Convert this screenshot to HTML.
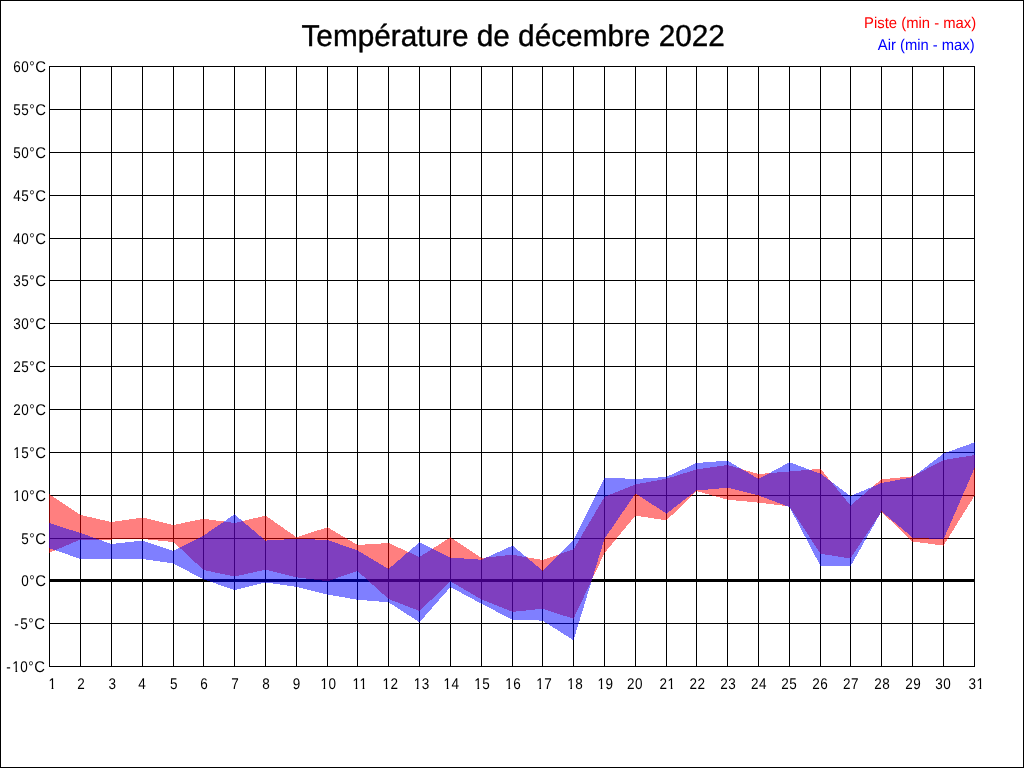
<!DOCTYPE html>
<html lang="fr"><head><meta charset="utf-8"><title>Température de décembre 2022</title>
<style>html,body{margin:0;padding:0;background:#fff}body{width:1024px;height:768px;overflow:hidden}svg{display:block;font-family:"Liberation Sans",Arial,sans-serif;text-rendering:geometricPrecision}.n{letter-spacing:0.54px}</style></head><body>
<svg width="1024" height="768" viewBox="0 0 1024 768">
<rect x="0" y="0" width="1024" height="768" fill="#fff"/>
<g shape-rendering="crispEdges" fill="#000">
<rect x="49" y="66" width="1" height="601"/>
<rect x="80" y="66" width="1" height="601"/>
<rect x="111" y="66" width="1" height="601"/>
<rect x="142" y="66" width="1" height="601"/>
<rect x="173" y="66" width="1" height="601"/>
<rect x="203" y="66" width="1" height="601"/>
<rect x="234" y="66" width="1" height="601"/>
<rect x="265" y="66" width="1" height="601"/>
<rect x="296" y="66" width="1" height="601"/>
<rect x="327" y="66" width="1" height="601"/>
<rect x="357" y="66" width="1" height="601"/>
<rect x="388" y="66" width="1" height="601"/>
<rect x="419" y="66" width="1" height="601"/>
<rect x="450" y="66" width="1" height="601"/>
<rect x="481" y="66" width="1" height="601"/>
<rect x="512" y="66" width="1" height="601"/>
<rect x="542" y="66" width="1" height="601"/>
<rect x="573" y="66" width="1" height="601"/>
<rect x="604" y="66" width="1" height="601"/>
<rect x="635" y="66" width="1" height="601"/>
<rect x="666" y="66" width="1" height="601"/>
<rect x="696" y="66" width="1" height="601"/>
<rect x="727" y="66" width="1" height="601"/>
<rect x="758" y="66" width="1" height="601"/>
<rect x="789" y="66" width="1" height="601"/>
<rect x="820" y="66" width="1" height="601"/>
<rect x="850" y="66" width="1" height="601"/>
<rect x="881" y="66" width="1" height="601"/>
<rect x="912" y="66" width="1" height="601"/>
<rect x="943" y="66" width="1" height="601"/>
<rect x="974" y="66" width="1" height="601"/>
<rect x="49" y="66" width="926" height="1"/>
<rect x="49" y="109" width="926" height="1"/>
<rect x="49" y="152" width="926" height="1"/>
<rect x="49" y="195" width="926" height="1"/>
<rect x="49" y="238" width="926" height="1"/>
<rect x="49" y="280" width="926" height="1"/>
<rect x="49" y="323" width="926" height="1"/>
<rect x="49" y="366" width="926" height="1"/>
<rect x="49" y="409" width="926" height="1"/>
<rect x="49" y="452" width="926" height="1"/>
<rect x="49" y="495" width="926" height="1"/>
<rect x="49" y="538" width="926" height="1"/>
<rect x="49" y="579" width="926" height="3"/>
<rect x="49" y="623" width="926" height="1"/>
<rect x="49" y="666" width="926" height="1"/>
</g>
<g shape-rendering="crispEdges">
<polygon fill="#ff0000" fill-opacity="0.5" points="49,494 80.5,515 111.5,522 142.5,517.5 173.5,525 203.5,518.75 234.5,523 265.5,515.6 296.5,537.25 327.5,527.25 357.5,545 388.5,543 419.5,557 450.5,537.25 481.5,558 512.5,554.75 542.5,560 573.5,549.4 604.5,496.9 635.5,484.4 666.5,478.75 696.5,469.4 727.5,465 758.5,474 789.5,471.5 820.5,468.75 850.5,505.6 881.5,479.25 912.5,476.4 943.5,460 975,455 975,495 943.5,545.6 912.5,541.5 881.5,511.9 850.5,558.5 820.5,553.75 789.5,506.5 758.5,502.6 727.5,499.75 696.5,491 666.5,520.4 635.5,515.6 604.5,553 573.5,618.75 542.5,608.75 512.5,611.9 481.5,599.5 450.5,581.4 419.5,611 388.5,599 357.5,571 327.5,581.25 296.5,577.25 265.5,569.75 234.5,576.5 203.5,570 173.5,542 142.5,539 111.5,539.5 80.5,539.5 49,553"/>
<polygon fill="#0000ff" fill-opacity="0.5" points="49,523 80.5,533 111.5,544 142.5,540.5 173.5,551 203.5,535.6 234.5,514.4 265.5,540.6 296.5,538.75 327.5,540 357.5,550.4 388.5,569 419.5,542.25 450.5,557.6 481.5,559.75 512.5,545.6 542.5,570.6 573.5,540 604.5,477.5 635.5,479 666.5,476.9 696.5,463 727.5,460.6 758.5,479 789.5,462.25 820.5,473.75 850.5,496 881.5,483 912.5,477.25 943.5,453.5 975,442.25 975,467 943.5,539.4 912.5,537.5 881.5,511.4 850.5,566.25 820.5,566 789.5,507 758.5,495.4 727.5,487.75 696.5,490.5 666.5,513.6 635.5,493.5 604.5,538.75 573.5,640.3 542.5,620.6 512.5,619.75 481.5,603.8 450.5,587 419.5,622.25 388.5,602.25 357.5,599.75 327.5,594.5 296.5,586.9 265.5,582.5 234.5,590 203.5,579.4 173.5,563.5 142.5,559 111.5,559 80.5,559 49,548"/>
</g>
<g shape-rendering="crispEdges" fill="#000"><rect x="0" y="0" width="1024" height="1"/><rect x="0" y="767" width="1024" height="1"/><rect x="0" y="0" width="1" height="768"/><rect x="1023" y="0" width="1" height="768"/></g>
<text transform="translate(513.18,46) scale(1,1.015)" font-size="29.76" text-anchor="middle" fill="#000" stroke="#000" stroke-width="0.4">Température de décembre 2022</text>
<text transform="translate(976.2,28) scale(1.012,1.06)" font-size="14.67" text-anchor="end" fill="#ff0000">Piste (min - max)</text>
<text transform="translate(974.58,50) scale(1.007,1.06)" font-size="14.67" text-anchor="end" fill="#0000ff">Air (min - max)</text>
<defs><clipPath id="c1x" clipPathUnits="userSpaceOnUse"><rect x="-5" y="-16" width="75" height="14.113"/><rect x="-5" y="0.4" width="75" height="6"/><rect x="3.389" y="-1.987" width="1.897" height="2.487"/><rect x="-5.000" y="-1.987" width="5.117" height="2.487"/><rect x="8.442" y="-1.987" width="61.558" height="2.487"/></clipPath><clipPath id="cm1x" clipPathUnits="userSpaceOnUse"><rect x="-5" y="-16" width="75" height="14.113"/><rect x="-5" y="0.4" width="75" height="6"/><rect x="10.014" y="-1.987" width="1.897" height="2.487"/><rect x="-5.000" y="-1.987" width="11.743" height="2.487"/><rect x="15.068" y="-1.987" width="54.932" height="2.487"/></clipPath><clipPath id="c1" clipPathUnits="userSpaceOnUse"><rect x="-5" y="-16" width="75" height="14.113"/><rect x="-5" y="0.4" width="75" height="6"/><rect x="3.389" y="-1.987" width="1.897" height="2.487"/><rect x="-5.000" y="-1.987" width="5.117" height="2.487"/><rect x="8.442" y="-1.987" width="61.558" height="2.487"/></clipPath><clipPath id="c11" clipPathUnits="userSpaceOnUse"><rect x="-5" y="-16" width="75" height="14.113"/><rect x="-5" y="0.4" width="75" height="6"/><rect x="3.389" y="-1.987" width="1.897" height="2.487"/><rect x="10.997" y="-1.987" width="1.897" height="2.487"/><rect x="-5.000" y="-1.987" width="5.117" height="2.487"/><rect x="16.050" y="-1.987" width="53.950" height="2.487"/></clipPath><clipPath id="cx1" clipPathUnits="userSpaceOnUse"><rect x="-5" y="-16" width="75" height="14.113"/><rect x="-5" y="0.4" width="75" height="6"/><rect x="12.086" y="-1.987" width="1.897" height="2.487"/><rect x="-5.000" y="-1.987" width="13.814" height="2.487"/><rect x="17.139" y="-1.987" width="52.861" height="2.487"/></clipPath></defs>
<g class="n" font-size="14.67" fill="#000">
<text transform="translate(13.26,72) scale(0.92,1.06)">60°<tspan dx="0.1" textLength="12.25" lengthAdjust="spacingAndGlyphs">C</tspan></text>
<text transform="translate(13.26,115) scale(0.92,1.06)">55°<tspan dx="0.1" textLength="12.25" lengthAdjust="spacingAndGlyphs">C</tspan></text>
<text transform="translate(13.26,158) scale(0.92,1.06)">50°<tspan dx="0.1" textLength="12.25" lengthAdjust="spacingAndGlyphs">C</tspan></text>
<text transform="translate(13.26,201) scale(0.92,1.06)">45°<tspan dx="0.1" textLength="12.25" lengthAdjust="spacingAndGlyphs">C</tspan></text>
<text transform="translate(13.26,244) scale(0.92,1.06)">40°<tspan dx="0.1" textLength="12.25" lengthAdjust="spacingAndGlyphs">C</tspan></text>
<text transform="translate(13.26,286) scale(0.92,1.06)">35°<tspan dx="0.1" textLength="12.25" lengthAdjust="spacingAndGlyphs">C</tspan></text>
<text transform="translate(13.26,329) scale(0.92,1.06)">30°<tspan dx="0.1" textLength="12.25" lengthAdjust="spacingAndGlyphs">C</tspan></text>
<text transform="translate(13.26,372) scale(0.92,1.06)">25°<tspan dx="0.1" textLength="12.25" lengthAdjust="spacingAndGlyphs">C</tspan></text>
<text transform="translate(13.26,415) scale(0.92,1.06)">20°<tspan dx="0.1" textLength="12.25" lengthAdjust="spacingAndGlyphs">C</tspan></text>
<text transform="translate(13.26,458) scale(0.92,1.06)" clip-path="url(#c1x)">15°<tspan dx="0.1" textLength="12.25" lengthAdjust="spacingAndGlyphs">C</tspan></text>
<text transform="translate(13.26,501) scale(0.92,1.06)" clip-path="url(#c1x)">10°<tspan dx="0.1" textLength="12.25" lengthAdjust="spacingAndGlyphs">C</tspan></text>
<text transform="translate(21.26,544) scale(0.92,1.06)">5°<tspan dx="0.1" textLength="12.25" lengthAdjust="spacingAndGlyphs">C</tspan></text>
<text transform="translate(21.26,586) scale(0.92,1.06)">0°<tspan dx="0.1" textLength="12.25" lengthAdjust="spacingAndGlyphs">C</tspan></text>
<text transform="translate(14.24,629) scale(0.92,1.06)"><tspan dy="0.45">-</tspan><tspan dx="1.2" dy="-0.45">5</tspan>°<tspan dx="0.1" textLength="12.25" lengthAdjust="spacingAndGlyphs">C</tspan></text>
<text transform="translate(6.24,672) scale(0.92,1.06)" clip-path="url(#cm1x)"><tspan dy="0.45">-</tspan><tspan dx="1.2" dy="-0.45">10</tspan>°<tspan dx="0.1" textLength="12.25" lengthAdjust="spacingAndGlyphs">C</tspan></text>
<text transform="translate(48.51,689) scale(0.92,1.06)" clip-path="url(#c1)">1</text>
<text transform="translate(77.22,689) scale(0.92,1.06)">2</text>
<text transform="translate(108.39,689) scale(0.92,1.06)">3</text>
<text transform="translate(138.32,689) scale(0.92,1.06)">4</text>
<text transform="translate(169.94,689) scale(0.92,1.06)">5</text>
<text transform="translate(200.22,689) scale(0.92,1.06)">6</text>
<text transform="translate(231.15,689) scale(0.92,1.06)">7</text>
<text transform="translate(262.22,689) scale(0.92,1.06)">8</text>
<text transform="translate(292.84,689) scale(0.92,1.06)">9</text>
<text transform="translate(320.38,689) scale(0.92,1.06)" clip-path="url(#c1x)">10</text>
<text transform="translate(352.51,689) scale(0.92,1.06)" clip-path="url(#c11)">11</text>
<text transform="translate(382.6,689) scale(0.92,1.06)" clip-path="url(#c1x)">12</text>
<text transform="translate(413.63,689) scale(0.92,1.06)" clip-path="url(#c1x)">13</text>
<text transform="translate(443.59,689) scale(0.92,1.06)" clip-path="url(#c1x)">14</text>
<text transform="translate(474.32,689) scale(0.92,1.06)" clip-path="url(#c1x)">15</text>
<text transform="translate(505.27,689) scale(0.92,1.06)" clip-path="url(#c1x)">16</text>
<text transform="translate(536.2,689) scale(0.92,1.06)" clip-path="url(#c1x)">17</text>
<text transform="translate(567.18,689) scale(0.92,1.06)" clip-path="url(#c1x)">18</text>
<text transform="translate(597.51,689) scale(0.92,1.06)" clip-path="url(#c1x)">19</text>
<text transform="translate(627.03,689) scale(0.92,1.06)">20</text>
<text transform="translate(659.59,689) scale(0.92,1.06)" clip-path="url(#cx1)">21</text>
<text transform="translate(689.56,689) scale(0.92,1.06)">22</text>
<text transform="translate(720.23,689) scale(0.92,1.06)">23</text>
<text transform="translate(751.08,689) scale(0.92,1.06)">24</text>
<text transform="translate(781.2,689) scale(0.92,1.06)">25</text>
<text transform="translate(812.26,689) scale(0.92,1.06)">26</text>
<text transform="translate(843.0,689) scale(0.92,1.06)">27</text>
<text transform="translate(874.32,689) scale(0.92,1.06)">28</text>
<text transform="translate(905.22,689) scale(0.92,1.06)">29</text>
<text transform="translate(935.22,689) scale(0.92,1.06)">30</text>
<text transform="translate(968.38,689) scale(0.92,1.06)" clip-path="url(#cx1)">31</text>
</g>
</svg></body></html>
